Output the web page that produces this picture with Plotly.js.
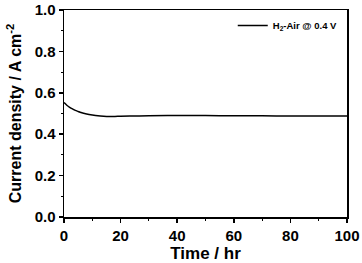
<!DOCTYPE html>
<html>
<head>
<meta charset="utf-8">
<script src="https://cdn.plot.ly/plotly-3.0.1.min.js"></script>
<style>
  html, body { margin: 0; padding: 0; background: #fff; }
  #chart { width: 362px; height: 263px; }
</style>
</head>
<body>
<div id="chart"></div>
<script>
// time in hours and current density
var timeHr = [0, 1, 2, 3, 4, 5, 6, 8, 10, 12, 14, 16, 18, 20, 25, 30, 40, 50, 60, 70, 80, 90, 100];
var currentDensity = [0.553, 0.540, 0.530, 0.522, 0.515, 0.510, 0.505, 0.498, 0.493, 0.489,
    0.487, 0.486, 0.486, 0.487, 0.488, 0.489, 0.490, 0.490, 0.489, 0.489, 0.488, 0.488, 0.488];
var seriesName = "H<sub>2</sub>-Air @ 0.4 V";

var data = [
  {
    x: timeHr,
    y: currentDensity,
    name: seriesName,
    type: 'scatter',
    mode: 'lines',
    line: {color: '#000', width: 1.5, shape: 'spline'}
  }
];

var fam = 'Liberation Sans, Arial, sans-serif';

var layout = {
  width: 362,
  height: 263,
  margin: {l: 64, r: 15, t: 10, b: 46},
  paper_bgcolor: '#fff',
  plot_bgcolor: '#fff',
  showlegend: true,
  legend: {
    x: 0.985, y: 0.995, xanchor: 'right', yanchor: 'top',
    bgcolor: 'rgba(0,0,0,0)',
    font: {family: fam, size: 9.5, color: '#000', weight: 'bold'},
    itemwidth: 30
  },
  xaxis: {
    range: [0, 100],
    tickvals: [0, 20, 40, 60, 80, 100],
    showline: true, mirror: true, linecolor: '#000', linewidth: 1.5,
    ticks: 'outside', ticklen: 4, tickwidth: 1.5, tickcolor: '#000',
    minor: {dtick: 10, ticks: 'outside', ticklen: 2, tickcolor: '#000', tickwidth: 1},
    showgrid: false, zeroline: false,
    tickfont: {family: fam, size: 15, color: '#000', weight: 'bold'},
    title: {text: 'Time / hr', standoff: 6,
      font: {family: fam, size: 17, color: '#000', weight: 'bold'}}
  },
  yaxis: {
    range: [0, 1],
    tickvals: [0, 0.2, 0.4, 0.6, 0.8, 1.0],
    tickformat: '.1f',
    showline: true, mirror: true, linecolor: '#000', linewidth: 1.5,
    ticks: 'outside', ticklen: 4, tickwidth: 1.5, tickcolor: '#000',
    minor: {dtick: 0.1, ticks: 'outside', ticklen: 2, tickcolor: '#000', tickwidth: 1},
    showgrid: false, zeroline: false,
    tickfont: {family: fam, size: 15, color: '#000', weight: 'bold'},
    title: {text: 'Current density / A cm<sup>-2</sup>', standoff: 9,
      font: {family: fam, size: 16, color: '#000', weight: 'bold'}}
  }
};

Plotly.newPlot('chart', data, layout, {staticPlot: true});
</script>
</body>
</html>
